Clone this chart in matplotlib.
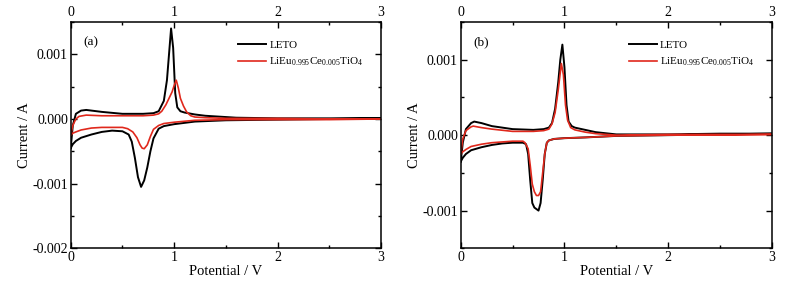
import matplotlib
matplotlib.use("Agg")
import matplotlib.pyplot as plt
from matplotlib.ticker import MultipleLocator, FuncFormatter

plt.rcParams['font.family'] = ['Liberation Serif', 'DejaVu Serif']
plt.rcParams['mathtext.fontset'] = 'custom'
plt.rcParams['mathtext.rm'] = 'Liberation Serif'
plt.rcParams['mathtext.it'] = 'Liberation Serif:italic'
plt.rcParams['axes.unicode_minus'] = False

# ---- panel (a) : full CV loops (0 -> 3 V anodic, then 3 -> 0 V cathodic)
a_leto_v = [0.0, 0.02, 0.05, 0.1, 0.15, 0.2, 0.3, 0.5, 0.7, 0.8, 0.85, 0.9, 0.93, 0.95, 0.97, 0.99, 1.01, 1.03, 1.06, 1.1, 1.2, 1.3, 1.6, 2.0, 2.5, 3.0,
            3.0, 2.5, 2.0, 1.5, 1.2, 1.0, 0.9, 0.85, 0.8, 0.77, 0.74, 0.71, 0.68, 0.65, 0.62, 0.59, 0.56, 0.5, 0.4, 0.3, 0.2, 0.1, 0.05, 0.02, 0.0]
a_leto_i = [-0.00045, -0.0001, 0.00008, 0.00013, 0.00014, 0.00013, 0.00011, 0.00008, 0.00008, 0.00009, 0.00012, 0.00028, 0.0006, 0.001, 0.0014, 0.0011, 0.0004, 0.00018, 0.00012, 0.0001, 0.00007, 0.00005, 0.00002, 0.00001, 0.00001, 0.00001,
            0.00001, 0.0, -0.00001, -0.00002, -0.00004, -0.00008, -0.00011, -0.00015, -0.0003, -0.0005, -0.00075, -0.00095, -0.00105, -0.0009, -0.0006, -0.00035, -0.00024, -0.00019, -0.00018, -0.0002, -0.00024, -0.00029, -0.00034, -0.00039, -0.00045]
a_ce_v = [0.0, 0.02, 0.05, 0.08, 0.15, 0.3, 0.5, 0.7, 0.8, 0.85, 0.88, 0.92, 0.95, 0.98, 1.0, 1.02, 1.04, 1.06, 1.09, 1.12, 1.16, 1.2, 1.3, 1.5, 2.0, 2.5, 3.0,
          3.0, 2.5, 2.0, 1.5, 1.2, 1.0, 0.9, 0.85, 0.8, 0.77, 0.74, 0.71, 0.69, 0.67, 0.64, 0.6, 0.55, 0.5, 0.4, 0.3, 0.2, 0.1, 0.05, 0.02, 0.0]
a_ce_i = [-0.00025, -0.0001, 0.0, 0.00004, 0.00006, 0.00005, 0.00005, 0.00005, 0.00006, 0.00008, 0.00012, 0.00022, 0.00032, 0.00042, 0.00052, 0.0006, 0.00048, 0.00032, 0.0002, 0.00011, 0.00005, 0.00003, 0.00002, 0.00001, 0.00001, 0.0, 0.0,
          0.0, -0.00001, -0.00001, -0.00001, -0.00002, -0.00005, -0.00007, -0.0001, -0.00016, -0.00027, -0.0004, -0.00046, -0.00045, -0.0004, -0.00029, -0.0002, -0.00015, -0.00013, -0.00013, -0.00013, -0.00014, -0.00017, -0.0002, -0.00022, -0.00025]

# ---- panel (b)
b_leto_v = [0.0, 0.02, 0.05, 0.1, 0.13, 0.2, 0.3, 0.5, 0.7, 0.8, 0.85, 0.88, 0.91, 0.94, 0.96, 0.98, 1.0, 1.02, 1.04, 1.07, 1.1, 1.2, 1.3, 1.5, 2.0, 2.5, 3.0,
            3.0, 2.5, 2.0, 1.5, 1.2, 1.0, 0.9, 0.85, 0.83, 0.81, 0.79, 0.77, 0.75, 0.73, 0.71, 0.69, 0.67, 0.65, 0.63, 0.6, 0.5, 0.4, 0.3, 0.2, 0.1, 0.05, 0.02, 0.0]
b_leto_i = [-0.00035, -0.0001, 0.00008, 0.00016, 0.00018, 0.00016, 0.00012, 0.00008, 0.00007, 0.00008, 0.0001, 0.00016, 0.00035, 0.0007, 0.001, 0.0012, 0.0009, 0.0004, 0.00018, 0.00012, 0.0001, 0.00007, 0.00004, 0.00001, 0.00001, 0.00002, 0.00002,
            0.00002, 0.00001, 0.0, -0.00001, -0.00003, -0.00004, -0.00005, -0.00007, -0.0001, -0.00025, -0.0006, -0.0009, -0.001, -0.00098, -0.00096, -0.0009, -0.0006, -0.00025, -0.00012, -0.0001, -0.0001, -0.00011, -0.00013, -0.00016, -0.0002, -0.00025, -0.0003, -0.00035]
b_ce_v = [0.0, 0.02, 0.05, 0.1, 0.12, 0.2, 0.3, 0.5, 0.7, 0.8, 0.85, 0.88, 0.91, 0.94, 0.97, 0.99, 1.01, 1.03, 1.06, 1.1, 1.2, 1.3, 1.5, 2.0, 2.5, 3.0,
          3.0, 2.5, 2.0, 1.5, 1.2, 1.0, 0.9, 0.85, 0.83, 0.81, 0.79, 0.77, 0.75, 0.73, 0.71, 0.69, 0.67, 0.65, 0.62, 0.6, 0.5, 0.4, 0.3, 0.2, 0.1, 0.05, 0.02, 0.0]
b_ce_i = [-0.00025, -0.00005, 0.00006, 0.00011, 0.00012, 0.0001, 0.00008, 0.00005, 0.00005, 0.00006, 0.00008, 0.00015, 0.0003, 0.0006, 0.00095, 0.0008, 0.0004, 0.0002, 0.0001, 0.00007, 0.00004, 0.00002, 0.0, 0.00001, 0.00001, 0.00001,
          0.00001, 0.0, 0.0, -0.00001, -0.00003, -0.00004, -0.00005, -0.00007, -0.0001, -0.00025, -0.0005, -0.00075, -0.0008, -0.0008, -0.00075, -0.00065, -0.0004, -0.00018, -0.0001, -0.00008, -0.00008, -0.00009, -0.0001, -0.00012, -0.00015, -0.00019, -0.00022, -0.00025]

panel_labels = ['(a)', '(b)']
series_labels = ['LETO', r'LiEu$_{0.995}$Ce$_{0.005}$TiO$_4$']
ylims = [(-0.002, 0.0015), (-0.0015, 0.0015)]

fig = plt.figure(figsize=(8, 2.91), dpi=100)
ax_a = fig.add_axes([0.0884, 0.1467, 0.388, 0.7777])
ax_b = fig.add_axes([0.5759, 0.1467, 0.389, 0.7777])

red = '#e0281c'
data = [((a_leto_v, a_leto_i), (a_ce_v, a_ce_i)), ((b_leto_v, b_leto_i), (b_ce_v, b_ce_i))]

for ax, (leto, ce), plab, yl in zip([ax_a, ax_b], data, panel_labels, ylims):
    ax.plot(leto[0], leto[1], color='black', lw=1.4, label=series_labels[0])
    ax.plot(ce[0], ce[1], color=red, lw=1.2, label=series_labels[1])
    ax.set_xlim(0, 3)
    ax.set_ylim(*yl)
    ax.xaxis.set_major_locator(MultipleLocator(1))
    ax.xaxis.set_minor_locator(MultipleLocator(0.5))
    ax.yaxis.set_major_locator(MultipleLocator(0.001))
    ax.yaxis.set_minor_locator(MultipleLocator(0.0005))
    ax.yaxis.set_major_formatter(FuncFormatter(lambda v, p: f'{v:.3f}' if abs(v) > 1e-9 else '0.000'))
    ax.tick_params(which='both', direction='in', top=True, right=True, labeltop=True,
                   labelsize=10, width=1.0, pad=2)
    ax.tick_params(which='major', length=4)
    ax.tick_params(which='minor', length=2.5)
    for s in ax.spines.values():
        s.set_linewidth(1.1)
    ax.set_xlabel('Potential / V', fontsize=10.5, labelpad=1)
    ax.set_ylabel('Current / A', fontsize=10.5, labelpad=1)
    ax.text(0.04, 0.91, plab, transform=ax.transAxes, fontsize=9.5, va='center')
    ax.legend(loc='upper right', bbox_to_anchor=(0.975, 0.965), frameon=False, fontsize=8,
              handlelength=2.5, handletextpad=0.3, labelspacing=0.55)

fig.savefig('out.png', dpi=100)
